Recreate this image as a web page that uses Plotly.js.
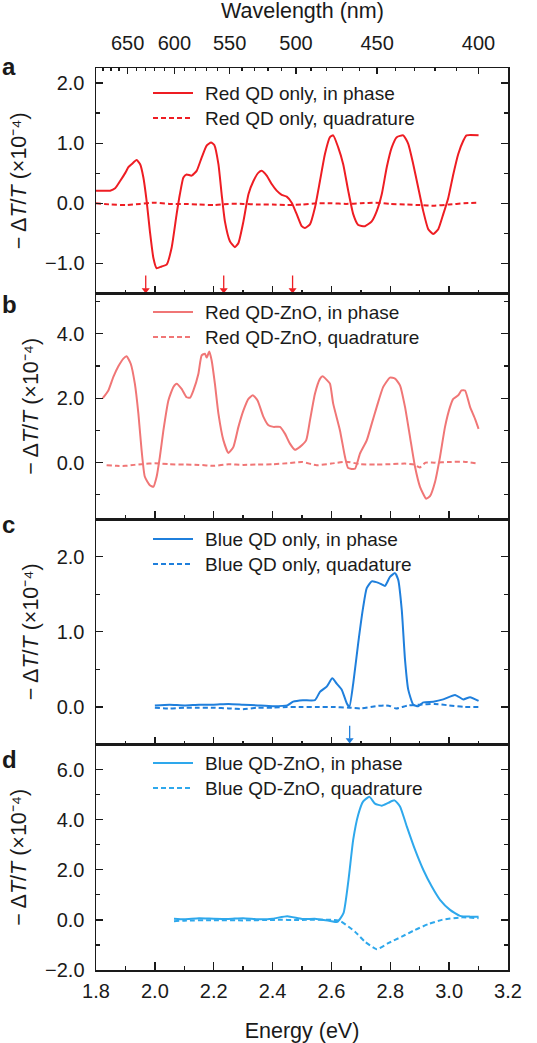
<!DOCTYPE html>
<html><head><meta charset="utf-8">
<script src="https://cdn.plot.ly/plotly-3.0.1.min.js"></script>
<style>html,body{margin:0;padding:0;background:#fff}#chart{width:537px;height:1043px}</style>
</head><body><div id="chart"></div>
<script>
// ---- Panel a: Red QD only ----
const aE = [1.8,1.848,1.865,1.882,1.9,1.91,1.921,1.938,1.95,1.961,1.972,1.983,1.995,2.006,2.023,2.04,2.057,2.074,2.085,2.097,2.108,2.125,2.142,2.159,2.176,2.191,2.202,2.216,2.227,2.238,2.255,2.272,2.284,2.301,2.318,2.335,2.352,2.363,2.38,2.397,2.414,2.431,2.448,2.465,2.482,2.499,2.51,2.527,2.544,2.561,2.578,2.595,2.606,2.623,2.64,2.657,2.674,2.691,2.714,2.737,2.754,2.771,2.788,2.805,2.822,2.844,2.861,2.878,2.895,2.912,2.929,2.946,2.963,2.98,2.997,3.014,3.031,3.048,3.059,3.1];
const aInPhase = [0.21,0.21,0.25,0.37,0.51,0.60,0.65,0.72,0.65,0.43,0.04,-0.46,-0.91,-1.08,-1.05,-1.02,-0.74,-0.18,0.15,0.43,0.48,0.46,0.54,0.76,0.96,1.01,0.97,0.65,0.15,-0.30,-0.63,-0.73,-0.66,-0.30,0.15,0.37,0.51,0.54,0.46,0.32,0.21,0.14,0.11,0.01,-0.18,-0.38,-0.41,-0.35,-0.07,0.37,0.82,1.10,1.13,0.93,0.65,0.21,-0.18,-0.36,-0.38,-0.30,-0.13,0.15,0.60,0.93,1.10,1.13,0.99,0.65,0.26,-0.13,-0.43,-0.51,-0.43,-0.18,0.09,0.48,0.82,1.04,1.13,1.13];
const aQE = [1.8,1.85,1.9,1.95,2.0,2.05,2.1,2.15,2.2,2.25,2.3,2.35,2.4,2.45,2.5,2.55,2.6,2.65,2.7,2.75,2.8,2.85,2.9,2.95,3.0,3.05,3.1];
const aQuad = [0.0,-0.02,-0.03,-0.01,0.01,-0.01,-0.01,-0.02,-0.03,-0.01,-0.01,-0.02,-0.02,-0.03,-0.02,0.0,0.0,-0.01,0.0,0.01,-0.01,-0.02,-0.03,-0.04,-0.02,0.0,0.01];
const aArrows = [1.969,2.234,2.468];

// ---- Panel b: Red QD-ZnO ----
const bE = [1.823,1.842,1.859,1.876,1.893,1.904,1.918,1.932,1.944,1.955,1.966,1.983,1.995,2.006,2.017,2.029,2.046,2.063,2.074,2.091,2.108,2.12,2.131,2.148,2.159,2.17,2.176,2.185,2.193,2.204,2.216,2.233,2.25,2.267,2.284,2.301,2.318,2.333,2.349,2.369,2.386,2.403,2.425,2.442,2.459,2.476,2.493,2.514,2.527,2.544,2.561,2.57,2.584,2.595,2.606,2.629,2.646,2.657,2.68,2.697,2.72,2.737,2.754,2.776,2.799,2.816,2.833,2.85,2.867,2.884,2.901,2.922,2.935,2.952,2.969,2.986,3.003,3.014,3.031,3.042,3.054,3.071,3.088,3.1];
const bInPhase = [2.0,2.24,2.66,2.99,3.23,3.30,3.07,2.45,1.52,0.38,-0.44,-0.70,-0.75,-0.44,0.18,1.00,1.93,2.35,2.45,2.29,2.03,2.02,2.24,2.76,3.33,3.38,3.26,3.45,3.17,2.45,1.52,0.69,0.30,0.49,1.11,1.62,1.98,2.09,1.93,1.42,1.16,1.11,1.11,0.90,0.59,0.40,0.49,0.69,1.31,2.14,2.60,2.68,2.57,2.45,1.83,1.00,0.18,-0.17,-0.19,0.28,0.69,1.21,1.73,2.35,2.64,2.61,2.40,1.73,0.80,-0.13,-0.75,-1.12,-1.04,-0.60,0.18,1.11,1.73,1.98,2.09,2.24,2.24,1.73,1.36,1.05];
const bQE = [1.836,1.87,1.9,1.93,1.96,2.0,2.05,2.1,2.15,2.2,2.25,2.3,2.35,2.4,2.45,2.5,2.55,2.6,2.65,2.7,2.75,2.8,2.85,2.88,2.9,2.92,2.95,3.0,3.05,3.1];
const bQuad = [-0.08,-0.10,-0.10,-0.07,-0.04,-0.02,-0.05,-0.06,-0.07,-0.10,-0.05,-0.07,-0.06,-0.05,-0.02,0.02,-0.08,-0.03,0.03,-0.05,-0.06,-0.05,-0.03,-0.06,-0.15,0.0,0.0,0.02,0.03,-0.03];

// ---- Panel c: Blue QD only ----
const cE = [2.0,2.05,2.1,2.15,2.2,2.25,2.3,2.35,2.4,2.45,2.47,2.503,2.544,2.561,2.584,2.603,2.618,2.635,2.652,2.661,2.674,2.691,2.708,2.72,2.737,2.76,2.782,2.799,2.816,2.827,2.839,2.85,2.861,2.878,2.895,2.912,2.946,2.98,3.02,3.048,3.071,3.1];
const cInPhase = [0.02,0.03,0.02,0.03,0.03,0.04,0.03,0.02,0.01,0.02,0.07,0.09,0.09,0.20,0.27,0.38,0.31,0.23,0.05,0.0,0.31,0.85,1.33,1.58,1.67,1.65,1.61,1.73,1.78,1.69,1.29,0.63,0.23,0.03,0.01,0.06,0.07,0.10,0.16,0.10,0.13,0.08];
const cQE = [2.0,2.05,2.1,2.15,2.2,2.25,2.3,2.35,2.4,2.45,2.5,2.55,2.6,2.66,2.7,2.75,2.78,2.8,2.82,2.86,2.9,2.95,3.0,3.05,3.1];
const cQuad = [-0.01,-0.02,-0.01,-0.01,-0.01,-0.02,-0.03,-0.01,-0.01,0.0,0.0,0.0,0.0,-0.01,-0.02,0.01,0.02,0.01,-0.02,0.02,0.03,0.04,0.02,0.0,0.0];
const cArrows = [2.662];

// ---- Panel d: Blue QD-ZnO ----
const dE = [2.065,2.1,2.15,2.2,2.25,2.3,2.35,2.4,2.45,2.5,2.55,2.6,2.62,2.641,2.658,2.674,2.691,2.708,2.729,2.748,2.771,2.793,2.814,2.833,2.856,2.884,2.912,2.941,2.969,3.003,3.037,3.071,3.1];
const dInPhase = [0.05,0.03,0.07,0.05,0.04,0.07,0.03,0.05,0.15,0.04,0.04,-0.05,-0.08,0.27,1.6,3.2,4.2,4.73,4.91,4.64,4.56,4.67,4.77,4.53,3.73,2.8,2.0,1.33,0.8,0.4,0.16,0.13,0.13];
const dQE = [2.065,2.1,2.2,2.3,2.4,2.5,2.6,2.63,2.68,2.714,2.754,2.793,2.839,2.884,2.929,2.975,3.042,3.1];
const dQuad = [-0.05,-0.03,-0.01,-0.02,0.0,0.0,0.0,-0.05,-0.47,-0.87,-1.17,-0.93,-0.67,-0.4,-0.17,0.0,0.1,0.07];

// ---- Labels ----
const seriesNames = [
  ["Red QD only, in phase","Red QD only, quadrature"],
  ["Red QD-ZnO, in phase","Red QD-ZnO, quadrature"],
  ["Blue QD only, in phase","Blue QD only, quadature"],
  ["Blue QD-ZnO, in phase","Blue QD-ZnO, quadrature"]
];
const panelLetters = ["a","b","c","d"];
const wavelengthMajor = [650,600,550,500,450,400];
const wavelengthMinor = [680,670,660,640,630,620,610,590,580,570,560,540,530,520,510,490,480,470,460,440,430,420,410];
const HC = 1239.84; // eV·nm

const colors = ["#ee1d23","#f07676","#1f7fdc","#2ea8ec"];
const FONT = "Liberation Sans, Arial, Helvetica, sans-serif";
const INK = "#1a1a1a";
const DASH = '5px,3px';

const panels = [
  {E:aE, v:aInPhase, qE:aQE, q:aQuad},
  {E:bE, v:bInPhase, qE:bQE, q:bQuad},
  {E:cE, v:cInPhase, qE:cQE, q:cQuad},
  {E:dE, v:dInPhase, qE:dQE, q:dQuad}
];

const traces = [];
panels.forEach((p,i)=>{
  const xs = i===0 ? 'x' : 'x'+(i+1);
  const ys = i===0 ? 'y' : 'y'+(i+1);
  traces.push({x:p.E, y:p.v, xaxis:xs, yaxis:ys, type:'scatter', mode:'lines', showlegend:false,
    name:seriesNames[i][0], line:{color:colors[i], width:2, shape:'spline', smoothing:0.5}, hoverinfo:'skip'});
  traces.push({x:p.qE, y:p.q, xaxis:xs, yaxis:ys, type:'scatter', mode:'lines', showlegend:false,
    name:seriesNames[i][1], line:{color:colors[i], width:2, dash:DASH, shape:'spline', smoothing:0.5}, hoverinfo:'skip'});
});

// arrow markers (built from the arrow energy arrays)
function arrowTraces(list, xs, ys, y0, y1, yTip, color){
  const sx=[], sy=[];
  list.forEach(e=>{ sx.push(e,e,null); sy.push(y0,y1,null); });
  return [
    {x:sx, y:sy, xaxis:xs, yaxis:ys, mode:'lines', line:{color:color, width:1.3}, showlegend:false, hoverinfo:'skip'},
    {x:list, y:list.map(()=>yTip), xaxis:xs, yaxis:ys, mode:'markers', marker:{symbol:'triangle-down', size:7, color:color}, showlegend:false, hoverinfo:'skip'}
  ];
}
traces.push(...arrowTraces(aArrows,'x','y',-1.2,-1.42,-1.44,colors[0]));
traces.push(...arrowTraces(cArrows,'x3','y3',-0.25,-0.42,-0.44,colors[2]));

const domains = [[0.75,1.0],[0.5,0.75],[0.25,0.5],[0.0,0.25]];
const yRanges = [[-1.5,2.25],[-1.75,5.25],[-0.5,2.5],[-2,7]];
const yDticks = [1,2,1,2];

const layout = {
  width:537, height:1043,
  margin:{l:96, r:29, t:68, b:73},
  paper_bgcolor:'#fff', plot_bgcolor:'#fff',
  font:{family:FONT, color:INK, size:20},
  showlegend:false,
  annotations:[], shapes:[]
};

// legend geometry (pixels in the 537x1043 page; plot area x 96..508, y 68..970)
const legendCenters = [[93,118],[312,337],[539,564],[763,788]];
const px2x = px => (px-96)/412;
const py2y = py => (970-py)/902;

const ytitle = "− Δ<i>T</i>/<i>T</i> (×10⁻⁴)";
for(let i=0;i<4;i++){
  const xk = i===0 ? 'xaxis' : 'xaxis'+(i+1);
  const yk = i===0 ? 'yaxis' : 'yaxis'+(i+1);
  const yref = i===0 ? 'y' : 'y'+(i+1);
  layout[xk] = {
    domain:[0,1], anchor:yref, range:[1.8,3.2], showgrid:false, zeroline:false,
    showline:true, linecolor:INK, linewidth:1.5, mirror:true,
    ticks:'inside', ticklen:8, tickwidth:1.3, tickcolor:INK, dtick:0.2, tick0:0,
    minor:{ticks:'inside', ticklen:4, tickwidth:1.3, tickcolor:INK, dtick:0.1, tick0:0, showgrid:false},
    showticklabels: i===3, tickformat:'.1f', tickfont:{size:20}, ticklabelstandoff:2
  };
  if(i!==0) layout[xk].matches='x';
  if(i===3){
    layout[xk].title = {text:'Energy (eV)', font:{size:21.5}, standoff:25};
  }
  layout[yk] = {
    domain:domains[i], anchor: i===0 ? 'x' : 'x'+(i+1), range:yRanges[i], showgrid:false, zeroline:false,
    showline:true, linecolor:INK, linewidth:1.5, mirror:'ticks',
    ticks:'inside', ticklen:7, tickwidth:1.3, tickcolor:INK, dtick:yDticks[i], tick0:0,
    minor:{ticks:'inside', ticklen:4, tickwidth:1.3, tickcolor:INK, dtick:yDticks[i]/2, tick0:0, showgrid:false},
    tickformat:'.1f', tickfont:{size:20}, ticklabelstandoff:6,
    title:{text:ytitle, font:{size:21.5}, standoff:12}
  };
  const letterY = [1.0017,0.7378,0.4939,0.2334][i];
  layout.annotations.push({xref:'paper', yref:'paper', x:-0.233, y:letterY, xanchor:'left', yanchor:'middle',
    text:'<b>'+panelLetters[i]+'</b>', showarrow:false, font:{size:24, color:INK, family:FONT}});
  // legend entries: line sample + label
  for(let k=0;k<2;k++){
    const cy = legendCenters[i][k];
    layout.shapes.push({type:'line', xref:'paper', yref:'paper', x0:px2x(153), x1:px2x(193), y0:py2y(cy), y1:py2y(cy),
      line:{color:colors[i], width:2, dash: k===0 ? 'solid' : DASH}});
    layout.annotations.push({xref:'paper', yref:'paper', x:px2x(203), y:py2y(cy), xanchor:'left', yanchor:'middle',
      text:seriesNames[i][k], showarrow:false, font:{size:19, color:INK, family:FONT}});
  }
}

// top wavelength axis overlaid on panel a
layout.xaxis5 = {
  overlaying:'x', anchor:'y', side:'top', range:[1.8,3.2], showgrid:false, zeroline:false,
  showline:true, linecolor:INK, linewidth:1.5,
  tickmode:'array', tickvals:wavelengthMajor.map(w=>HC/w), ticktext:wavelengthMajor.map(String),
  ticks:'inside', ticklen:6, tickwidth:1.3, tickcolor:INK, tickfont:{size:20}, ticklabelstandoff:9,
  minor:{tickmode:'array', tickvals:wavelengthMinor.map(w=>HC/w), ticks:'inside', ticklen:3, tickwidth:1.3, tickcolor:INK, showgrid:false}
};
// top axis title
layout.annotations.push({xref:'paper', yref:'paper', x:0.5, y:py2y(11), xanchor:'center', yanchor:'middle',
  text:'Wavelength (nm)', showarrow:false, font:{size:21.5, color:INK, family:FONT}});
traces.push({x:[1.8,3.2], y:[0,0], xaxis:'x5', yaxis:'y', mode:'lines', line:{width:0, color:'rgba(0,0,0,0)'}, showlegend:false, hoverinfo:'skip'});

Plotly.newPlot('chart', traces, layout, {staticPlot:true, displayModeBar:false});
</script>
</body></html>
